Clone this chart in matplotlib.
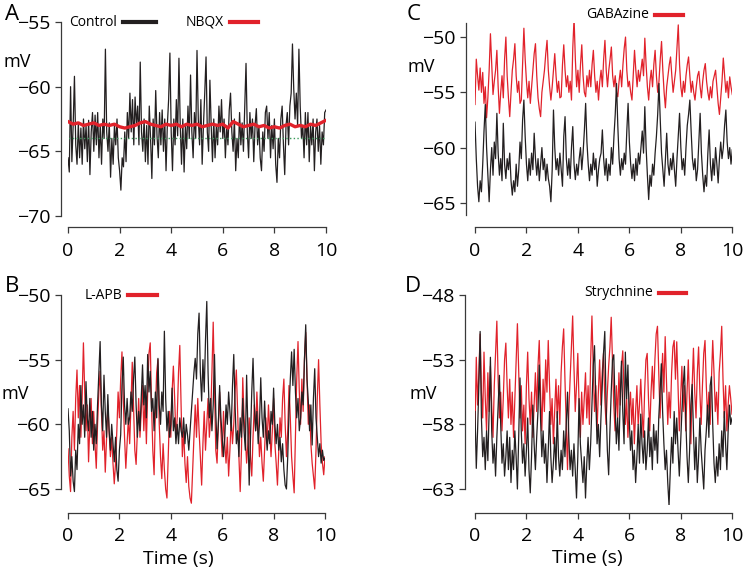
import matplotlib.pyplot as plt
import numpy as np
from matplotlib.lines import Line2D

plt.rcParams['font.family'] = ['Open Sans', 'DejaVu Sans']

# ---- data (mV, sampled every 0.05 s unless noted) ----
a_control = [
    -65.5, -66.6, -60.0, -65.8, -63.0, -59.2, -64.5, -66.0, -62.8, -65.5,
    -63.2, -66.0, -62.5, -64.8, -63.0, -65.8, -62.6, -66.8, -63.5, -62.0,
    -65.0, -62.2, -64.5, -62.0, -65.5, -63.0, -66.0, -62.5, -64.0, -57.1,
    -63.5, -65.0, -62.8, -67.0, -64.0, -66.0, -63.0, -64.5, -62.5, -65.5,
    -66.5, -68.0, -65.5, -66.2, -63.5, -65.8, -62.0, -64.0, -60.5, -63.5,
    -61.0, -64.5, -60.8, -63.0, -61.5, -64.5, -58.1, -63.5, -65.0, -62.5,
    -65.8, -63.0, -66.0, -61.5, -64.0, -67.1, -62.5, -64.5, -60.3, -63.8,
    -65.5, -62.0, -64.5, -61.8, -65.0, -62.5, -66.5, -63.0, -61.0, -57.4,
    -63.5, -66.5, -62.5, -64.5, -61.0, -63.8, -57.8, -63.0, -66.0, -62.5,
    -66.6, -63.0, -64.8, -61.5, -64.0, -59.1, -63.5, -65.5, -62.0, -64.0,
    -57.2, -62.5, -64.5, -61.0, -66.0, -63.0, -60.5, -57.7, -63.5, -65.0,
    -59.5, -63.0, -65.8, -62.5, -65.5, -63.0, -64.5, -61.5, -63.5, -61.0,
    -64.0, -62.5, -65.5, -63.0, -64.5, -61.8, -60.5, -63.5, -65.0, -62.5,
    -66.5, -64.0, -65.5, -62.0, -64.5, -62.8, -65.0, -61.5, -58.2, -63.5,
    -65.5, -62.0, -64.0, -62.5, -65.8, -63.0, -61.7, -64.5, -63.0, -65.5,
    -66.5, -63.5, -65.0, -62.0, -61.5, -64.0, -62.0, -65.5, -63.0, -64.8,
    -62.5, -66.0, -67.4, -64.0, -65.5, -62.5, -61.5, -64.5, -66.8, -63.0,
    -62.0, -64.5, -61.5, -60.5, -56.7, -60.2, -62.5, -60.5, -63.0, -57.1,
    -61.5, -64.0, -63.0, -65.5, -62.0, -64.5, -62.0, -65.8, -63.0, -64.5,
    -62.5, -66.5, -63.5, -62.5, -65.0, -63.0, -66.0, -63.5, -64.5, -62.0,
    -61.8,
]
# NBQX sampled every 0.2 s
a_nbqx = [
    -62.7, -62.9, -62.8, -63.0, -62.9, -62.8, -63.0, -62.9, -63.0, -62.9,
    -63.1, -63.2, -63.1, -63.0, -62.8, -62.7, -62.9, -63.0, -63.1, -62.9,
    -63.0, -62.9, -63.1, -62.9, -63.0, -62.9, -63.1, -63.0, -62.9, -63.0,
    -62.9, -63.2, -62.7, -62.9, -63.1, -63.0, -62.9, -63.1, -63.0, -63.2,
    -63.1, -63.2, -63.0, -62.9, -63.1, -63.0, -63.1, -62.9, -63.0, -62.8,
    -62.6,
]
a_ref = -64.0

b_control = [
    -58.8, -60.5, -64.0, -62.5, -64.4, -65.2, -62.0, -63.5, -60.0, -61.5,
    -57.0, -60.0, -58.5, -61.0, -56.7, -59.5, -60.5, -58.0, -61.0, -59.0,
    -62.0, -60.0, -61.5, -58.5, -56.0, -53.6, -58.5, -60.5, -56.2, -59.0,
    -61.0, -57.7, -60.5, -62.0, -60.0, -61.5, -62.9, -61.0, -63.5, -64.4,
    -62.0, -60.8, -57.0, -54.8, -58.5, -60.0, -58.0, -60.0, -59.5, -57.5,
    -59.0, -56.5, -54.8, -58.5, -61.0, -59.0, -60.5, -58.0, -55.4, -58.5,
    -57.0, -59.5, -54.6, -57.5, -55.9, -59.0, -58.0, -60.5, -57.5, -59.5,
    -54.9, -58.5, -60.0, -57.5, -59.0, -52.8, -58.0, -60.5, -59.0, -61.0,
    -60.0, -57.2, -60.5, -59.5, -61.5, -60.0, -61.5, -59.5, -60.5, -61.0,
    -59.5, -61.5, -60.0, -60.8, -62.0, -60.5, -59.0, -57.5, -56.0, -54.9,
    -56.5, -53.0, -51.4, -56.0, -58.2, -55.0, -57.5, -53.5, -50.5, -56.0,
    -59.5, -58.0, -60.5, -58.5, -54.6, -59.0, -61.9, -60.0, -57.0, -59.5,
    -61.0, -62.5, -61.0, -58.5, -60.0, -57.5, -59.0, -60.5, -57.0, -54.6,
    -58.5, -61.5, -60.5, -62.5, -59.5, -61.0, -58.0, -60.5, -62.0, -56.2,
    -60.5, -64.7, -61.0, -57.5, -54.9, -58.5, -60.5, -59.0, -61.5, -60.0,
    -56.4, -59.5, -61.0, -58.2, -60.5, -62.0, -60.5, -61.5, -59.0, -60.0,
    -57.2, -60.0, -61.5, -60.0, -62.0, -61.0, -62.9, -61.5, -63.5, -64.7,
    -65.0, -62.5, -59.0, -56.5, -54.4, -57.0, -54.2, -57.5, -59.5, -58.0,
    -60.5, -59.5, -57.5, -58.5, -55.0, -52.3, -56.5, -58.2, -60.5, -58.5,
    -61.6, -58.0, -55.7, -59.5, -61.0, -62.5, -61.5, -63.0, -62.0, -62.8,
    -62.6,
]
b_lapb = [
    -61.9, -64.0, -65.2, -61.0, -59.0, -62.0, -58.0, -55.8, -59.5, -57.0,
    -61.0, -58.0, -53.7, -57.5, -60.5, -58.5, -62.9, -60.0, -58.0, -61.5,
    -59.0, -61.5, -63.4, -60.0, -57.5, -55.9, -59.0, -62.0, -60.5, -63.7,
    -61.0, -58.5, -60.5, -62.5, -61.0, -63.0, -64.6, -63.0, -60.5, -57.5,
    -59.5, -56.5, -54.4, -58.0, -61.0, -63.4, -61.5, -59.5, -61.5, -58.5,
    -55.2, -58.5, -62.0, -63.1, -60.5, -58.0, -61.0, -59.0, -57.0, -60.5,
    -58.0, -61.5, -57.5, -54.5, -53.7, -58.5, -62.0, -63.9, -59.0, -56.0,
    -55.0, -60.0, -62.5, -64.2, -61.5, -63.5, -65.0, -65.7, -62.5, -59.0,
    -61.0, -57.5, -55.5, -58.0, -61.0, -59.5, -56.0, -53.9, -58.5, -62.5,
    -60.5, -63.0, -64.5, -62.5, -64.8, -65.7, -66.1, -63.5, -61.0, -58.5,
    -61.0, -58.0, -60.5, -62.5, -64.7, -61.5, -59.0, -62.0, -60.0, -58.0,
    -61.0, -59.5, -56.0, -52.1, -57.0, -62.0, -63.0, -60.0, -57.5, -60.5,
    -62.5, -59.0, -61.5, -63.0, -61.0, -64.0, -62.0, -59.5, -61.5, -60.0,
    -57.5, -55.8, -59.0, -62.5, -65.2, -62.0, -56.4, -59.5, -61.0, -63.0,
    -61.5, -59.5, -62.5, -64.0, -61.0, -58.5, -60.5, -57.5, -60.0, -62.5,
    -61.0, -63.0, -64.4, -62.0, -59.5, -61.5, -58.5, -60.5, -62.5, -60.5,
    -58.0, -61.5, -63.0, -64.7, -62.0, -59.5, -61.0, -58.0, -56.5, -60.0,
    -62.5, -60.5, -57.0, -59.5, -62.5, -64.0, -65.3, -61.0, -56.5, -53.6,
    -57.5, -60.0, -56.5, -59.0, -55.0, -52.9, -56.5, -60.0, -58.5, -61.5,
    -63.0, -64.0, -65.0, -62.0, -58.0, -55.0, -58.5, -61.5, -63.0, -63.9,
    -62.5,
]

c_control = [
    -57.7, -61.0, -63.5, -64.9, -63.0, -64.0, -61.5, -58.5, -56.1, -60.0,
    -62.5, -64.9, -62.0, -60.0, -62.5, -59.5, -61.0, -56.9, -60.5, -62.5,
    -61.0, -63.0, -57.8, -61.5, -62.8, -61.0, -62.0, -60.5, -63.0, -64.3,
    -63.0, -64.0, -61.5, -63.5, -62.0, -59.5, -61.0, -57.5, -55.7, -59.0,
    -61.5, -63.0, -61.0, -62.5, -60.5, -62.0, -58.7, -61.0, -62.5, -61.0,
    -63.0, -61.5, -60.0, -62.0, -61.0, -63.0, -61.5, -62.8, -63.5, -64.9,
    -62.0, -56.6, -60.0, -62.0, -61.0, -62.5, -60.5, -62.0, -63.5, -59.0,
    -57.2, -61.0, -62.5, -61.0, -62.8, -60.0, -58.1, -61.5, -62.9, -61.5,
    -62.5, -61.0, -60.0, -62.0, -60.5, -58.5, -56.0, -59.5, -61.5, -63.0,
    -61.5, -62.5, -60.5, -62.0, -61.0, -63.5, -62.0, -61.0, -60.5, -58.4,
    -61.0, -62.5, -61.0, -63.0, -61.5, -62.5, -60.0, -61.5, -59.0, -57.0,
    -54.2, -58.0, -61.0, -62.5, -61.0, -62.0, -60.5, -61.5, -58.5, -56.0,
    -59.5, -61.5, -62.8, -61.5, -63.0, -61.0, -62.5, -60.5, -61.5, -60.0,
    -58.5, -60.5, -56.3, -60.0, -62.5, -64.7, -62.5, -63.5, -61.5, -62.5,
    -60.5, -59.0, -57.0, -54.2, -57.5, -60.5, -62.0, -63.5, -61.0, -58.7,
    -61.5, -62.5, -61.0, -62.0, -60.5, -62.0, -63.5, -61.0, -59.0, -56.9,
    -60.0, -62.0, -61.0, -62.5, -60.0, -58.0, -57.0, -55.7, -58.5, -61.0,
    -62.0, -61.0, -63.0, -62.0, -59.5, -56.9, -60.5, -62.5, -64.0, -62.5,
    -63.5, -60.5, -58.4, -61.5, -63.0, -61.0, -62.5, -60.0, -61.5, -63.2,
    -61.0, -59.5, -61.0, -60.0, -58.0, -56.6, -59.5, -61.0, -60.0, -61.5,
    -60.2,
]
c_gabazine = [
    -56.1, -52.0, -53.5, -54.8, -52.8, -55.0, -53.2, -56.0, -54.5, -57.3,
    -55.5, -53.0, -49.7, -52.5, -55.2, -54.0, -53.0, -51.2, -54.5, -56.9,
    -55.0, -53.5, -55.5, -52.0, -50.0, -53.5, -55.5, -57.2, -55.0, -53.0,
    -52.0, -50.6, -53.5, -55.0, -54.0, -56.0, -55.7, -52.5, -49.2, -52.0,
    -54.0, -55.5, -54.0, -56.0, -54.5, -53.0, -51.5, -50.6, -53.5, -55.5,
    -56.5, -57.2, -55.0, -54.0, -53.0, -51.5, -50.3, -53.0, -54.5, -55.7,
    -54.5, -53.0, -51.5, -53.5, -55.0, -54.0, -55.5, -55.4, -52.5, -50.7,
    -53.0, -54.5, -53.5, -55.0, -54.0, -55.7, -51.0, -48.3, -52.0, -54.5,
    -53.0, -55.0, -52.5, -50.7, -53.5, -55.0, -55.4, -53.5, -54.5, -53.0,
    -54.5, -52.5, -51.2, -53.5, -55.0, -54.0, -55.7, -54.0, -53.0, -54.5,
    -52.0, -50.3, -53.0, -54.5, -53.0, -52.0, -50.9, -53.5, -54.5, -53.5,
    -55.0, -55.4, -54.0, -53.0, -54.5, -52.5, -51.0, -50.0, -53.0, -54.5,
    -54.0, -55.0, -55.7, -53.5, -51.2, -53.0, -54.5, -53.0, -54.0, -53.0,
    -52.0, -53.5, -50.1, -52.5, -54.5, -55.7, -54.0, -53.0, -54.5, -52.5,
    -51.2, -53.5, -55.0, -54.0, -52.0, -50.4, -53.0, -55.0, -56.4, -54.5,
    -53.5, -52.5, -51.8, -53.5, -55.0, -54.0, -53.0, -51.0, -48.9, -52.5,
    -54.5, -55.4, -54.0, -55.0, -53.5, -52.5, -51.8, -53.5, -55.0, -54.0,
    -55.0, -55.7, -54.5, -53.5, -53.1, -54.5, -55.5, -54.0, -53.0, -52.4,
    -54.0, -55.0, -55.7, -54.5, -55.5, -54.0, -53.5, -53.0, -54.5, -56.0,
    -57.0, -55.5, -54.0, -51.9, -53.5, -55.0, -54.0, -55.5, -53.6, -54.5,
    -55.2,
]

d_control = [
    -57.0, -61.4, -58.5, -55.0, -50.8, -57.5, -60.5, -59.0, -61.5, -58.5,
    -60.8, -57.0, -52.8, -58.5, -61.0, -59.5, -62.0, -59.0, -56.5, -54.2,
    -58.0, -61.0, -59.5, -62.0, -60.5, -58.5, -61.5, -59.0, -62.5, -60.0,
    -61.5, -58.5, -60.5, -63.0, -59.0, -54.4, -58.5, -61.0, -59.5, -62.0,
    -60.0, -57.5, -61.5, -63.3, -60.5, -56.5, -59.5, -61.5, -59.0, -57.0,
    -53.4, -57.5, -60.5, -58.5, -61.0, -59.5, -62.5, -60.0, -57.0, -60.5,
    -62.5, -61.0, -59.0, -61.5, -57.0, -60.5, -62.0, -60.0, -61.5, -58.5,
    -60.5, -58.0, -55.5, -59.0, -61.5, -60.0, -62.0, -59.5, -61.5, -63.7,
    -60.5, -56.0, -59.5, -61.0, -62.5, -60.5, -63.7, -61.0, -59.0, -61.5,
    -59.5, -56.5, -53.5, -51.9, -56.0, -59.5, -58.0, -60.5, -57.5, -55.0,
    -52.5, -50.8, -56.5, -60.0, -61.9, -58.5, -55.5, -53.0, -52.6, -56.5,
    -59.5, -57.5, -60.0, -56.0, -53.1, -57.0, -59.5, -52.4, -56.0, -53.4,
    -57.5, -60.0, -58.5, -61.5, -60.0, -62.5, -60.5, -58.0, -61.0, -57.2,
    -59.5, -61.0, -58.5, -61.5, -60.0, -57.5, -60.5, -59.0, -61.5, -58.0,
    -60.0, -58.5, -61.0, -57.5, -55.5, -53.3, -57.0, -59.5, -61.5, -60.0,
    -62.5, -64.3, -61.5, -59.0, -61.0, -57.0, -59.5, -57.5, -60.0, -62.0,
    -59.5, -57.0, -55.0, -53.5, -57.5, -60.5, -62.5, -60.0, -56.5, -54.9,
    -58.5, -61.5, -59.0, -62.5, -60.5, -57.5, -60.0, -61.5, -63.0, -60.0,
    -58.5, -56.5, -59.0, -55.0, -54.3, -58.0, -61.0, -62.5, -60.5, -62.0,
    -59.5, -61.5, -58.5, -60.5, -57.0, -59.5, -61.5, -58.5, -56.5, -58.0,
    -57.5,
]
d_strychnine = [
    -58.5, -52.8, -56.5, -54.0, -51.0, -55.5, -57.5, -52.4, -56.0, -58.5,
    -54.0, -57.0, -53.5, -56.5, -59.0, -55.0, -52.5, -50.0, -54.5, -57.5,
    -55.5, -58.5, -56.0, -53.0, -51.7, -55.0, -57.5, -54.5, -58.0, -55.5,
    -59.0, -56.0, -53.0, -50.2, -54.0, -57.5, -55.0, -58.5, -56.5, -59.5,
    -55.0, -52.4, -56.0, -58.0, -55.5, -59.0, -56.5, -54.0, -57.0, -53.5,
    -51.5, -55.5, -58.5, -54.5, -57.0, -53.0, -55.5, -51.5, -55.0, -58.0,
    -56.0, -59.5, -57.0, -54.5, -57.5, -55.0, -58.0, -54.0, -52.0, -50.6,
    -54.5, -58.0, -61.5, -57.0, -54.5, -52.0, -49.6, -53.5, -57.0, -55.0,
    -52.5, -56.5, -59.0, -55.5, -58.0, -56.0, -54.0, -57.5, -55.0, -58.0,
    -53.0, -49.6, -53.5, -57.0, -55.0, -58.5, -55.5, -53.0, -56.5, -54.0,
    -52.5, -56.0, -58.0, -55.5, -53.5, -52.0, -49.7, -53.0, -56.5, -58.5,
    -55.0, -57.5, -54.0, -56.5, -53.5, -52.3, -55.5, -58.0, -56.0, -59.0,
    -57.0, -55.5, -58.0, -56.0, -59.5, -57.0, -55.0, -58.0, -56.5, -54.5,
    -57.0, -59.0, -55.5, -53.0, -52.5, -56.0, -58.5, -55.5, -53.5, -56.0,
    -53.0, -51.0, -50.4, -54.0, -57.5, -55.0, -52.5, -55.5, -51.2, -54.5,
    -58.0, -55.5, -57.5, -54.0, -52.0, -51.5, -54.5, -51.6, -55.0, -58.5,
    -56.0, -53.5, -57.0, -55.0, -58.5, -55.5, -53.0, -56.5, -59.5, -55.0,
    -52.1, -55.5, -57.5, -54.0, -52.0, -55.5, -58.0, -55.0, -52.5, -51.5,
    -55.0, -57.5, -55.5, -58.0, -54.5, -51.5, -54.0, -57.0, -55.5, -58.0,
    -54.0, -52.5, -50.4, -54.5, -57.5, -55.0, -58.5, -56.5, -55.0, -56.0,
    -57.2,
]

x_ticks = [0, 2, 4, 6, 8, 10]

BLACK = '#231f20'
RED = '#e1222b'
W, H = 745, 570


def px(x, y):
    return x / W, 1 - y / H


def style_axis(ax, ylim, yticks, ybounds, left_off, bottom_off):
    ax.set_xlim(0, 10)
    ax.set_ylim(*ylim)
    for s in ['top', 'right']:
        ax.spines[s].set_visible(False)
    ax.spines['left'].set_position(('outward', left_off))
    ax.spines['bottom'].set_position(('outward', bottom_off))
    ax.spines['left'].set_bounds(*ybounds)
    ax.spines['bottom'].set_bounds(0, 10)
    for s in ['left', 'bottom']:
        ax.spines[s].set_linewidth(0.9)
        ax.spines[s].set_color('#3a3a3a')
    ax.set_xticks(x_ticks)
    ax.set_yticks(yticks)
    ax.tick_params(axis='both', labelsize=14, length=4.5, width=0.9,
                   color='#3a3a3a')
    ax.tick_params(axis='y', pad=3)
    ax.tick_params(axis='x', pad=6)
    ax.patch.set_visible(False)


def legend_entry(fig, y, text, color, x0, x1, size=10):
    # label sits just left of its colour bar
    fig.text(*px(x0 - 6, y), text, fontsize=size, va='center', ha='right')
    fig.add_artist(Line2D([x0 / W, x1 / W], [1 - y / H, 1 - y / H],
                          color=color, lw=3, transform=fig.transFigure))


fig = plt.figure(figsize=(7.45, 5.7), dpi=100)

# Panel A
axA = fig.add_axes([68 / W, 1 - 216 / H, 258 / W, 194 / H])
axA.plot(np.linspace(0, 10, len(a_control)), a_control, color=BLACK, lw=0.9)
axA.hlines(a_ref, -0.1, 10.15, colors='#3b9a5b', linestyles=':', lw=1)
axA.plot(np.linspace(0, 10, len(a_nbqx)), a_nbqx, color=RED, lw=2.4)
style_axis(axA, (-70, -55), [-70, -65, -60, -55], (-70, -55), 5, 8)

# Panel B
axB = fig.add_axes([68 / W, 1 - 504.5 / H, 257 / W, 209.5 / H])
axB.plot(np.linspace(0, 10, len(b_lapb)), b_lapb, color=RED, lw=0.9)
axB.plot(np.linspace(0, 10, len(b_control)), b_control, color=BLACK, lw=0.9)
style_axis(axB, (-66.2, -50), [-65, -60, -55, -50], (-65, -50), 5.4, 6)
axB.set_xlabel('Time (s)', fontsize=14)
axB.xaxis.set_label_coords(0.43, -0.215)

# Panel C
axC = fig.add_axes([475 / W, 1 - 215 / H, 257.3 / W, 192.3 / H])
axC.plot(np.linspace(0, 10, len(c_gabazine)), c_gabazine, color=RED, lw=0.9)
axC.plot(np.linspace(0, 10, len(c_control)), c_control, color=BLACK, lw=0.9)
style_axis(axC, (-66.1, -48.7), [-65, -60, -55, -50], (-66.1, -48.7), 6.5, 8.6)

# Panel D
axD = fig.add_axes([475 / W, 1 - 504.5 / H, 257 / W, 209.2 / H])
axD.plot(np.linspace(0, 10, len(d_strychnine)), d_strychnine, color=RED, lw=0.9)
axD.plot(np.linspace(0, 10, len(d_control)), d_control, color=BLACK, lw=0.9)
style_axis(axD, (-64.2, -48), [-63, -58, -53, -48], (-63, -48), 7.2, 6)
axD.set_xlabel('Time (s)', fontsize=14)
axD.xaxis.set_label_coords(0.436, -0.215)

# mV labels
for (x, y) in [(17, 62), (15, 394), (421, 67), (423, 394)]:
    fig.text(*px(x, y), 'mV', fontsize=13, ha='center', va='center')

# panel letters
for (x, y, s) in [(12, 14, 'A'), (12, 286, 'B'), (414, 15, 'C'), (413, 287, 'D')]:
    fig.text(*px(x, y), s, fontsize=16, ha='center', va='center')

# legends
legend_entry(fig, 22, 'Control', BLACK, 123, 156)
legend_entry(fig, 22, 'NBQX', RED, 230, 258)
legend_entry(fig, 295, 'L-APB', RED, 128, 157)
legend_entry(fig, 15, 'GABAzine', RED, 655, 683)
legend_entry(fig, 293, 'Strychnine', RED, 659, 686)

fig.savefig('out.png', dpi=100)
